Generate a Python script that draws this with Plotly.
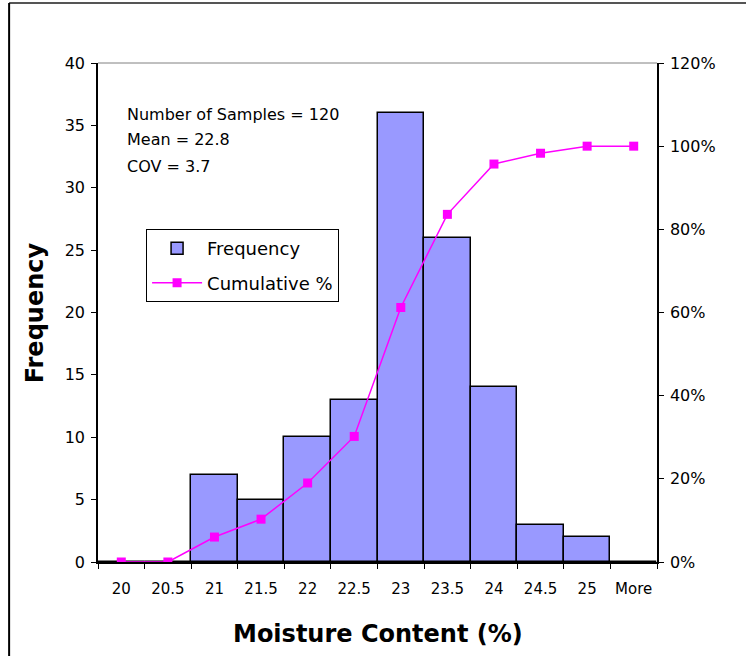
import plotly.graph_objects as go

# Histogram bins (moisture content, %) and counts
bins = ["20", "20.5", "21", "21.5", "22", "22.5", "23", "23.5", "24", "24.5", "25", "More"]
frequency = [0, 0, 7, 5, 10, 13, 36, 26, 14, 3, 2, 0]
cumulative = [0.0, 0.0, 0.060, 0.103, 0.190, 0.302, 0.612, 0.836, 0.957, 0.983, 1.0, 1.0]

y_ticks = list(range(0, 41, 5))
y2_ticks = [0, 0.2, 0.4, 0.6, 0.8, 1.0, 1.2]

stats_lines = ["Number of Samples = 120", "Mean = 22.8", "COV = 3.7"]

FONT = "DejaVu Sans"

fig = go.Figure()

fig.add_trace(go.Bar(
    x=bins, y=frequency, name="Frequency",
    marker=dict(color="#9999FF", line=dict(color="black", width=1.5)),
    legendgroup="a", yaxis="y",
))
fig.add_trace(go.Scatter(
    x=bins, y=cumulative, name="Cumulative %", mode="lines+markers",
    line=dict(color="#FF00FF", width=1.5),
    marker=dict(symbol="square", size=9, color="#FF00FF"),
    legendgroup="b", yaxis="y2",
))

n = len(bins)
boundaries = [i - 0.5 for i in range(n + 1)]

fig.update_layout(
    width=746, height=656,
    margin=dict(l=98, r=89, t=63, b=94),
    paper_bgcolor="white", plot_bgcolor="white",
    font=dict(family=FONT, color="black"),
    bargap=0,
    showlegend=True,
    legend=dict(
        x=0.086, y=0.667, xanchor="left", yanchor="top",
        bordercolor="black", borderwidth=1, bgcolor="white",
        font=dict(size=18, family=FONT), tracegroupgap=8,
        itemwidth=50,
    ),
    xaxis=dict(
        type="category", range=[-0.5, n - 0.5],
        showline=True, linecolor="black", linewidth=1.5,
        ticks="outside", ticklen=5, tickcolor="black", tickson="boundaries",
        tickfont=dict(size=15, family=FONT), showgrid=False,
        ticklabelstandoff=12,
    ),
    xaxis2=dict(
        overlaying="x", anchor="y", range=[-0.5, n - 0.5],
        tickvals=boundaries, ticks="inside", ticklen=5, tickcolor="black",
        showticklabels=False, showgrid=False, zeroline=False, showline=False,
    ),
    yaxis=dict(
        range=[0, 40], tickvals=y_ticks,
        showline=True, linecolor="black", linewidth=1.5,
        ticks="outside", ticklen=5, tickcolor="black",
        tickfont=dict(size=16, family=FONT), showgrid=False, zeroline=False,
        ticklabelstandoff=3,
    ),
    yaxis2=dict(
        overlaying="y", side="right", anchor="x", range=[0, 1.2],
        tickvals=y2_ticks, tickformat=".0%",
        showline=True, linecolor="black", linewidth=1.5,
        ticks="outside", ticklen=5, tickcolor="black",
        tickfont=dict(size=16, family=FONT), showgrid=False, zeroline=False,
        ticklabelstandoff=3,
    ),
    yaxis3=dict(
        overlaying="y", side="left", anchor="x", range=[0, 40],
        tickvals=y_ticks, ticks="inside", ticklen=5, tickcolor="black",
        showticklabels=False, showgrid=False, zeroline=False, showline=False,
    ),
    yaxis4=dict(
        overlaying="y", side="right", anchor="x", range=[0, 1.2],
        tickvals=y2_ticks, ticks="inside", ticklen=5, tickcolor="black",
        showticklabels=False, showgrid=False, zeroline=False, showline=False,
    ),
)

# Summary statistics text
for line, yp in zip(stats_lines, [0.896, 0.846, 0.792]):
    fig.add_annotation(
        text=line, xref="paper", yref="paper", x=0.048, y=yp,
        xanchor="left", yanchor="middle", showarrow=False,
        font=dict(size=16, family=FONT),
    )

# Axis titles
fig.add_annotation(
    text="<b>Moisture Content (%)</b>", xref="paper", yref="paper",
    x=0.5, y=-0.144, xanchor="center", yanchor="middle", showarrow=False,
    font=dict(size=24, family=FONT),
)
fig.add_annotation(
    text="<b>Frequency</b>", xref="paper", yref="paper",
    x=-0.113, y=0.5, xanchor="center", yanchor="middle", showarrow=False,
    textangle=-90, font=dict(size=24, family=FONT),
)

# Plot-area top edge and chart frame
fig.add_shape(type="line", xref="paper", yref="paper", x0=0, x1=1, y0=1, y1=1,
              line=dict(color="#808080", width=1))
fig.add_shape(type="line", xref="paper", yref="paper", x0=-0.159, x1=1.16,
              y0=1.12, y1=1.12, line=dict(color="#555555", width=2))
fig.add_shape(type="line", xref="paper", yref="paper", x0=-0.159, x1=-0.159,
              y0=1.12, y1=-0.19, line=dict(color="black", width=2))

fig.write_html("out.html")
